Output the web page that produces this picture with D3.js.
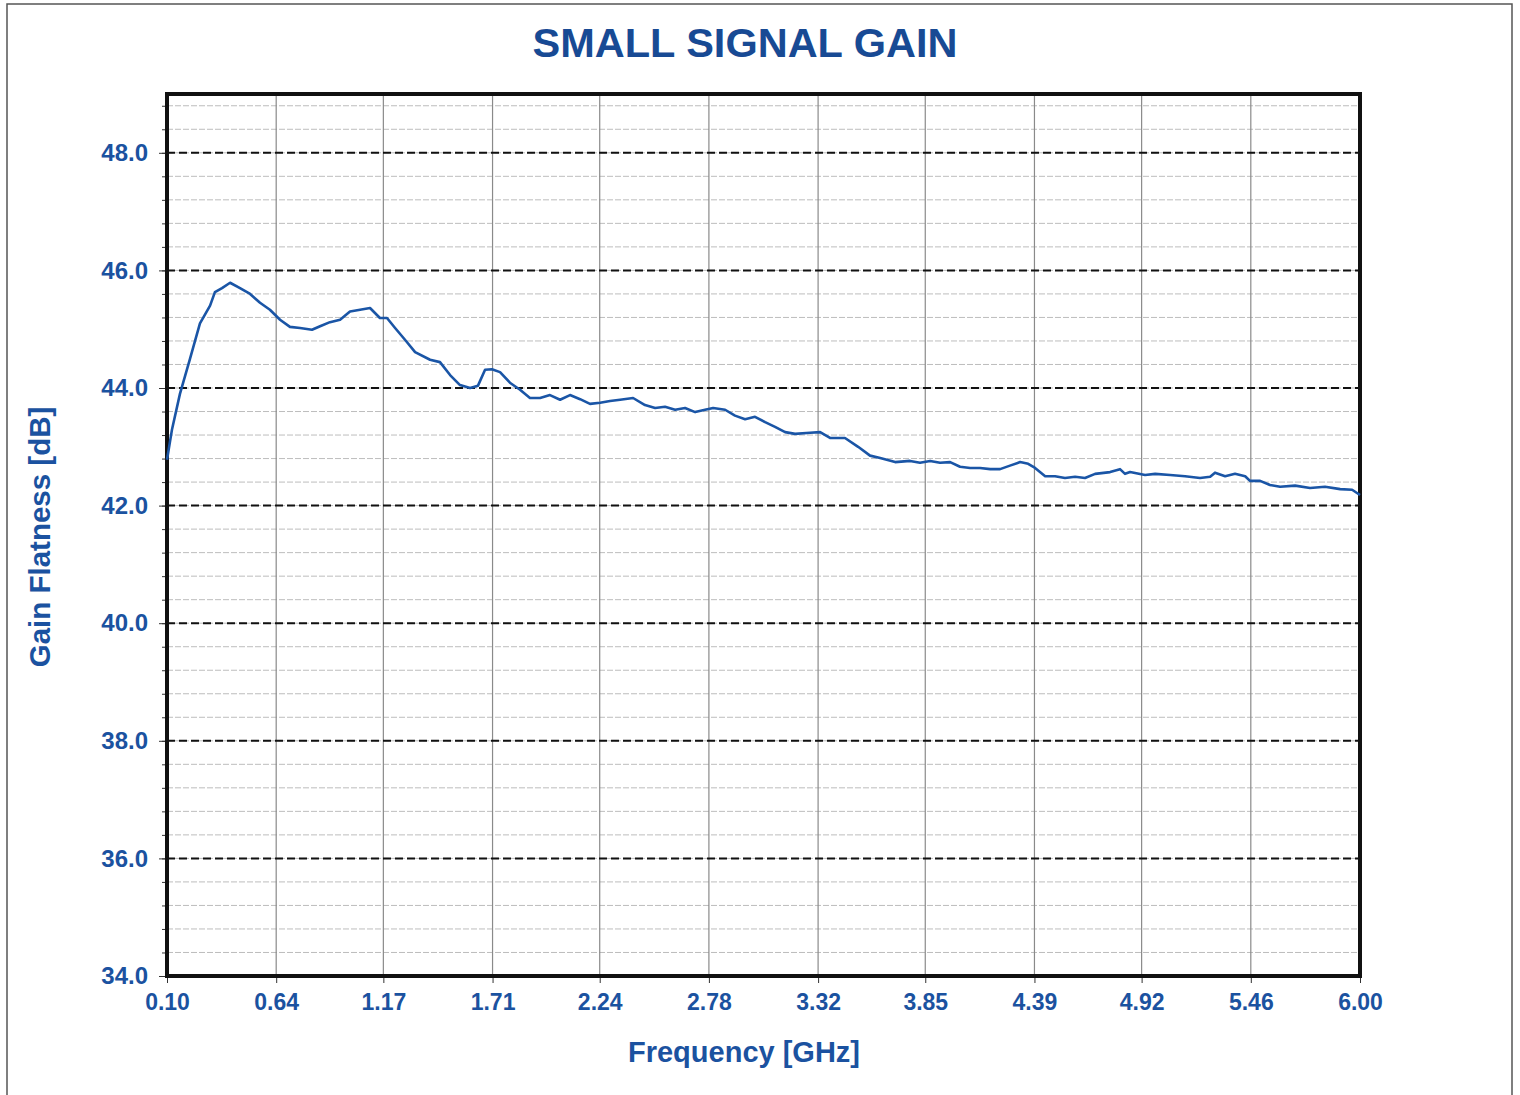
<!DOCTYPE html>
<html>
<head>
<meta charset="utf-8">
<script src="https://cdn.jsdelivr.net/npm/d3@7"></script>
<style>
  body { margin: 0; background: #fff; }
  svg { display: block; font-family: "Liberation Sans", Arial, sans-serif; }
</style>
</head>
<body>
<div id="chart"></div>
<script>
// measured trace, frequency in GHz
const freq = [
  0.100, 0.125, 0.164, 0.214, 0.263, 0.313, 0.337, 0.372, 0.412, 0.461,
  0.511, 0.560, 0.609, 0.659, 0.708, 0.758, 0.817, 0.857, 0.906, 0.956,
  1.005, 1.055, 1.104, 1.153, 1.188, 1.228, 1.277, 1.327, 1.401, 1.450,
  1.500, 1.549, 1.599, 1.638, 1.673, 1.707, 1.747, 1.796, 1.846, 1.895,
  1.945, 1.994, 2.044, 2.093, 2.143, 2.192, 2.242, 2.291, 2.341, 2.405,
  2.464, 2.514, 2.563, 2.613, 2.662, 2.712, 2.761, 2.801, 2.860, 2.909,
  2.959, 3.008, 3.058, 3.107, 3.157, 3.206, 3.280, 3.330, 3.379, 3.453,
  3.518, 3.577, 3.627, 3.701, 3.775, 3.824, 3.874, 3.923, 3.973, 4.022,
  4.072, 4.121, 4.171, 4.220, 4.269, 4.319, 4.359, 4.393, 4.443, 4.492,
  4.541, 4.591, 4.640, 4.690, 4.764, 4.813, 4.838, 4.863, 4.937, 4.987,
  5.061, 5.135, 5.209, 5.259, 5.283, 5.333, 5.382, 5.432, 5.456, 5.506,
  5.555, 5.605, 5.679, 5.753, 5.827, 5.902, 5.961, 6.000
];
// gain in dB
const gain = [
  42.78, 43.30, 43.90, 44.50, 45.10, 45.40, 45.63, 45.70, 45.79, 45.70,
  45.60, 45.45, 45.33, 45.16, 45.04, 45.02, 44.99, 45.05, 45.12, 45.16,
  45.30, 45.33, 45.36, 45.19, 45.19, 45.02, 44.82, 44.61, 44.48, 44.44,
  44.22, 44.05, 44.00, 44.04, 44.31, 44.32, 44.27, 44.09, 43.97, 43.83,
  43.83, 43.88, 43.80, 43.88, 43.81, 43.73, 43.75, 43.78, 43.80, 43.83,
  43.71, 43.66, 43.68, 43.63, 43.66, 43.59, 43.63, 43.66, 43.63, 43.53,
  43.47, 43.51, 43.42, 43.34, 43.25, 43.22, 43.24, 43.25, 43.15, 43.15,
  43.00, 42.85, 42.81, 42.74, 42.76, 42.73, 42.76, 42.73, 42.74, 42.66,
  42.64, 42.64, 42.62, 42.62, 42.68, 42.74, 42.71, 42.64, 42.50, 42.50,
  42.47, 42.49, 42.47, 42.54, 42.57, 42.62, 42.54, 42.57, 42.52, 42.54,
  42.52, 42.50, 42.47, 42.49, 42.56, 42.50, 42.54, 42.50, 42.42, 42.42,
  42.35, 42.32, 42.34, 42.30, 42.32, 42.28, 42.27, 42.18
];
const xTicks = [0.10, 0.64, 1.17, 1.71, 2.24, 2.78, 3.32, 3.85, 4.39, 4.92, 5.46, 6.00];
const yTicks = [34, 36, 38, 40, 42, 44, 46, 48];
const yMinor = d3.range(34, 49.01, 0.4);

const width = 1520, height = 1095;
const blue = "#1b52a0";

const svg = d3.select("#chart").append("svg")
  .attr("width", width).attr("height", height);

// outer frame
svg.append("rect")
  .attr("x", 7).attr("y", 4).attr("width", 1505).attr("height", 1100)
  .attr("fill", "none").attr("stroke", "#555").attr("stroke-width", 1.5);

const x = d3.scaleLinear().domain([0.1, 6.0]).range([167, 1360]);
const y = d3.scaleLinear().domain([34, 49]).range([976, 94]);

// minor horizontal grid
svg.append("g").selectAll("line").data(yMinor).join("line")
  .attr("x1", x(0.1)).attr("x2", x(6.0))
  .attr("y1", (d) => y(d)).attr("y2", (d) => y(d))
  .attr("stroke", "#bdbdbd").attr("stroke-width", 1)
  .attr("stroke-dasharray", "6,2");

// vertical grid
svg.append("g").selectAll("line").data(xTicks).join("line")
  .attr("x1", (d) => x(d)).attr("x2", (d) => x(d))
  .attr("y1", y(49)).attr("y2", y(34))
  .attr("stroke", "#8a8a8a").attr("stroke-width", 1.2);

// major dashed lines
svg.append("g").selectAll("line").data(yTicks).join("line")
  .attr("x1", x(0.1)).attr("x2", x(6.0))
  .attr("y1", (d) => y(d)).attr("y2", (d) => y(d))
  .attr("stroke", "#111").attr("stroke-width", 2)
  .attr("stroke-dasharray", "8,4");

// axes
svg.append("g")
  .attr("transform", `translate(${x(0.1)},0)`)
  .call(d3.axisLeft(y).tickValues(yMinor).tickSize(5).tickFormat(""))
  .call((g) => g.select(".domain").remove())
  .call((g) => g.selectAll(".tick line").attr("stroke", "#333"));

svg.append("g")
  .attr("transform", `translate(${x(0.1)},0)`)
  .call(d3.axisLeft(y).tickValues(yTicks).tickSize(8).tickPadding(11)
    .tickFormat(d3.format(".1f")))
  .call((g) => g.select(".domain").remove())
  .call((g) => g.selectAll(".tick line").attr("stroke", "#333"))
  .call((g) => g.selectAll(".tick text")
    .attr("fill", blue).attr("font-size", "24px").attr("font-weight", "bold")
    .attr("font-family", "Liberation Sans, Arial, sans-serif"));

svg.append("g")
  .attr("transform", `translate(0,${y(34)})`)
  .call(d3.axisBottom(x).tickValues(xTicks).tickSize(7).tickPadding(11)
    .tickFormat(d3.format(".2f")))
  .call((g) => g.select(".domain").remove())
  .call((g) => g.selectAll(".tick line").attr("stroke", "#333"))
  .call((g) => g.selectAll(".tick text")
    .attr("fill", blue).attr("font-size", "23px").attr("font-weight", "bold")
    .attr("font-family", "Liberation Sans, Arial, sans-serif"));

// plot frame
svg.append("rect")
  .attr("x", x(0.1)).attr("y", y(49))
  .attr("width", x(6.0) - x(0.1)).attr("height", y(34) - y(49))
  .attr("fill", "none").attr("stroke", "#111").attr("stroke-width", 4);

// trace
const pts = freq.map((f, i) => [f, gain[i]]);
svg.append("path")
  .datum(pts)
  .attr("fill", "none")
  .attr("stroke", "#1a55a6")
  .attr("stroke-width", 2.6)
  .attr("stroke-linejoin", "round")
  .attr("d", d3.line().x((d) => x(d[0])).y((d) => y(d[1])));

// titles
svg.append("text")
  .attr("x", 745).attr("y", 57)
  .attr("text-anchor", "middle")
  .attr("fill", "#184a94").attr("font-size", "41.5px").attr("font-weight", "bold")
  .text("SMALL SIGNAL GAIN");

svg.append("text")
  .attr("x", 744).attr("y", 1062)
  .attr("text-anchor", "middle")
  .attr("fill", blue).attr("font-size", "29px").attr("font-weight", "bold")
  .text("Frequency [GHz]");

svg.append("text")
  .attr("transform", "translate(50,537) rotate(-90)")
  .attr("text-anchor", "middle")
  .attr("fill", blue).attr("font-size", "29.5px").attr("font-weight", "bold")
  .text("Gain Flatness [dB]");
</script>
</body>
</html>
